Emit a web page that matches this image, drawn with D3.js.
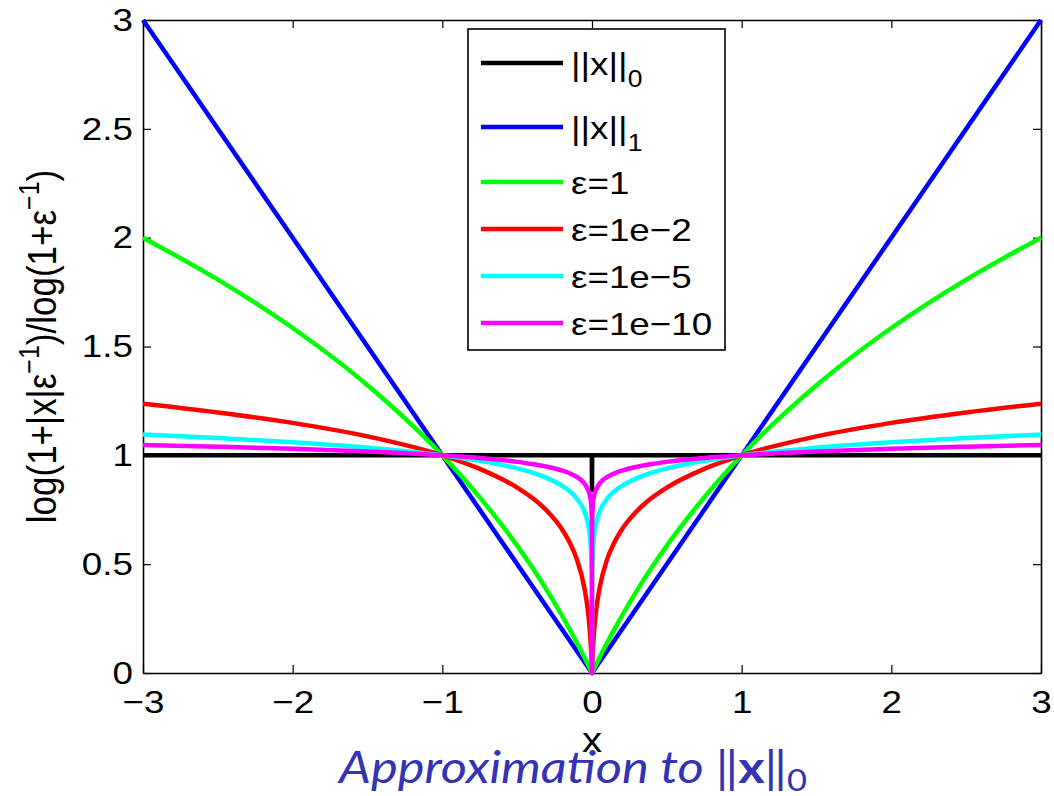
<!DOCTYPE html>
<html>
<head>
<meta charset="utf-8">
<script src="https://cdn.jsdelivr.net/npm/d3@7"></script>
<style>
  body { margin: 0; background: #fff; }
  svg { display: block; }
</style>
</head>
<body>
<div class="chart"></div>
<script>
// x samples shared by the smooth curves (dense near the cusp at 0)
const xs = [-3, -2.5, -2, -1.5, -1, -0.75, -0.5, -0.4, -0.3, -0.2, -0.15, -0.1, -0.05, -0.03, -0.02, -0.01, -0.005, -0.001, -0.0001,
  0,
  0.0001, 0.001, 0.005, 0.01, 0.02, 0.03, 0.05, 0.1, 0.15, 0.2, 0.3, 0.4, 0.5, 0.75, 1, 1.5, 2, 2.5, 3];

const yEps1 = [2, 1.807, 1.585, 1.322, 1, 0.807, 0.585, 0.4854, 0.3785, 0.263, 0.2016, 0.1375, 0.0704, 0.0427, 0.0286, 0.0144, 0.0072, 0.0014, 0.0001,
  0,
  0.0001, 0.0014, 0.0072, 0.0144, 0.0286, 0.0427, 0.0704, 0.1375, 0.2016, 0.263, 0.3785, 0.4854, 0.585, 0.807, 1, 1.322, 1.585, 1.807, 2];

const yEps2 = [1.237, 1.197, 1.149, 1.087, 1, 0.938, 0.852, 0.8047, 0.744, 0.6597, 0.6008, 0.5196, 0.388, 0.3004, 0.238, 0.1502, 0.0879, 0.0207, 0.0022,
  0,
  0.0022, 0.0207, 0.0879, 0.1502, 0.238, 0.3004, 0.388, 0.5196, 0.6008, 0.6597, 0.744, 0.8047, 0.852, 0.938, 1, 1.087, 1.149, 1.197, 1.237];

const yEps5 = [1.0954, 1.0796, 1.0602, 1.0352, 1, 0.975, 0.9398, 0.9204, 0.8954, 0.860, 0.8352, 0.800, 0.740, 0.6955, 0.660, 0.600, 0.540, 0.4009, 0.2083,
  0,
  0.2083, 0.4009, 0.540, 0.600, 0.660, 0.6955, 0.740, 0.800, 0.8352, 0.860, 0.8954, 0.9204, 0.9398, 0.975, 1, 1.0352, 1.0602, 1.0796, 1.0954];

const yEps10 = [1.0477, 1.0398, 1.0301, 1.0176, 1, 0.9875, 0.970, 0.9602, 0.9477, 0.930, 0.9176, 0.900, 0.870, 0.8477, 0.830, 0.800, 0.770, 0.700, 0.600,
  0,
  0.600, 0.700, 0.770, 0.800, 0.830, 0.8477, 0.870, 0.900, 0.9176, 0.930, 0.9477, 0.9602, 0.970, 0.9875, 1, 1.0176, 1.0301, 1.0398, 1.0477];

// ||x||_0 and ||x||_1
const xL0 = [-3, -0.001, 0, 0.001, 3];
const yL0 = [1, 1, 0.84, 1, 1];
const xL1 = [-3, 0, 3];
const yL1 = [3, 0, 3];

const xTicks = [-3, -2, -1, 0, 1, 2, 3];
const yTicks = [0, 0.5, 1, 1.5, 2, 2.5, 3];

const seriesNames = [["||x||", "0"], ["||x||", "1"], ["ε=1", ""], ["ε=1e−2", ""], ["ε=1e−5", ""], ["ε=1e−10", ""]];
const seriesColors = ["#000000", "#0000ff", "#00ff00", "#ff0000", "#00ffff", "#ff00ff"];

const width = 1054, height = 796;
const m = {left: 143, right: 1041, top: 20, bottom: 673};
const font = "'Liberation Sans', Arial, Helvetica, sans-serif";
const sx = 1.15;   // the source figure's text is a bit wider than tall

const svg = d3.select('.chart').append('svg')
  .attr('width', width)
  .attr('height', height)
  .attr('viewBox', [0, 0, width, height]);

const x = d3.scaleLinear().domain([-3, 3]).range([m.left, m.right]);
const y = d3.scaleLinear().domain([0, 3]).range([m.bottom, m.top]);

const series = [
  {xv: xL0, yv: yL0, curve: d3.curveLinear},
  {xv: xL1, yv: yL1, curve: d3.curveLinear},
  {xv: xs, yv: yEps1, curve: d3.curveMonotoneX},
  {xv: xs, yv: yEps2, curve: d3.curveMonotoneX},
  {xv: xs, yv: yEps5, curve: d3.curveMonotoneX},
  {xv: xs, yv: yEps10, curve: d3.curveMonotoneX}
];

// axes (inward ticks, mirrored on top / right)
const tickLen = 8;
const styleAxis = g => {
  g.selectAll('path.domain').attr('stroke', '#000').attr('stroke-width', 1.6);
  g.selectAll('.tick line').attr('stroke', '#000').attr('stroke-width', 1.2);
  g.selectAll('.tick text').attr('fill', '#000').attr('font-size', 32).attr('font-family', font);
};

svg.append('g')
  .attr('transform', `translate(0,${m.bottom})`)
  .call(d3.axisBottom(x).tickValues(xTicks).tickSizeInner(-tickLen).tickSizeOuter(0).tickPadding(17)
    .tickFormat(d => d < 0 ? '−' + Math.abs(d) : d))
  .call(styleAxis)
  .call(g => g.selectAll('.tick text').attr('dy', '0.71em').attr('transform', `scale(${sx},1)`));

svg.append('g')
  .attr('transform', `translate(0,${m.top})`)
  .call(d3.axisTop(x).tickValues(xTicks).tickSizeInner(-tickLen).tickSizeOuter(0).tickFormat(''))
  .call(styleAxis);

svg.append('g')
  .attr('transform', `translate(${m.left},0)`)
  .call(d3.axisLeft(y).tickValues(yTicks).tickSizeInner(-tickLen).tickSizeOuter(0).tickPadding(10)
    .tickFormat(d3.format('')))
  .call(styleAxis)
  .call(g => g.selectAll('.tick text').attr('x', -10 / sx).attr('transform', `scale(${sx},1)`));

svg.append('g')
  .attr('transform', `translate(${m.right},0)`)
  .call(d3.axisRight(y).tickValues(yTicks).tickSizeInner(-tickLen).tickSizeOuter(0).tickFormat(''))
  .call(styleAxis);

// curves
series.forEach((s, i) => {
  const line = d3.line()
    .x((d, k) => x(s.xv[k]))
    .y(d => y(d))
    .curve(s.curve);
  svg.append('path')
    .attr('d', line(s.yv))
    .attr('fill', 'none')
    .attr('stroke', seriesColors[i])
    .attr('stroke-width', 4.5)
    .attr('stroke-linejoin', 'round');
});

// legend
const legend = svg.append('g');
legend.append('rect')
  .attr('x', 468).attr('y', 29)
  .attr('width', 257).attr('height', 321)
  .attr('fill', '#fff').attr('stroke', '#000').attr('stroke-width', 1.6);

const rowY = [63, 127, 182, 229, 276, 323];
seriesNames.forEach((nm, i) => {
  legend.append('line')
    .attr('x1', 481).attr('x2', 563)
    .attr('y1', rowY[i]).attr('y2', rowY[i])
    .attr('stroke', seriesColors[i]).attr('stroke-width', 4.5);
  const t = legend.append('text')
    .attr('transform', `translate(571,${rowY[i] + 12}) scale(${sx},1)`)
    .attr('font-family', font).attr('font-size', 32).attr('fill', '#000');
  t.append('tspan').text(nm[0]);
  if (nm[1]) t.append('tspan').attr('font-size', 23).attr('dy', 12).text(nm[1]);
});

// axis labels
svg.append('text')
  .attr('transform', `translate(${x(0)},752) scale(${sx},1)`)
  .attr('text-anchor', 'middle')
  .attr('font-family', font).attr('font-size', 35)
  .text('x');

const yl = svg.append('text')
  .attr('transform', `translate(56,${(m.top + m.bottom) / 2}) scale(${sx},1) rotate(-90)`)
  .attr('text-anchor', 'middle')
  .attr('font-family', font).attr('font-size', 35);
yl.append('tspan').text('log(1+|x|ε');
yl.append('tspan').attr('font-size', 25).attr('dy', -15).text('−1');
yl.append('tspan').attr('dy', 15).text(')/log(1+ε');
yl.append('tspan').attr('font-size', 25).attr('dy', -15).text('−1');
yl.append('tspan').attr('dy', 15).text(')');

// title below the plot
const title = svg.append('text')
  .attr('transform', `translate(339,783) scale(${sx},1)`)
  .attr('font-family', "Lato, 'Open Sans', sans-serif").attr('font-size', 44)
  .attr('fill', '#3333b3');
title.append('tspan').attr('font-style', 'italic').text('Approximation to ');
title.append('tspan').text('‖');
title.append('tspan').attr('font-weight', 'bold').text('x');
title.append('tspan').text('‖');
title.append('tspan').attr('font-size', 30).attr('dy', 8).text('0');
</script>
</body>
</html>
